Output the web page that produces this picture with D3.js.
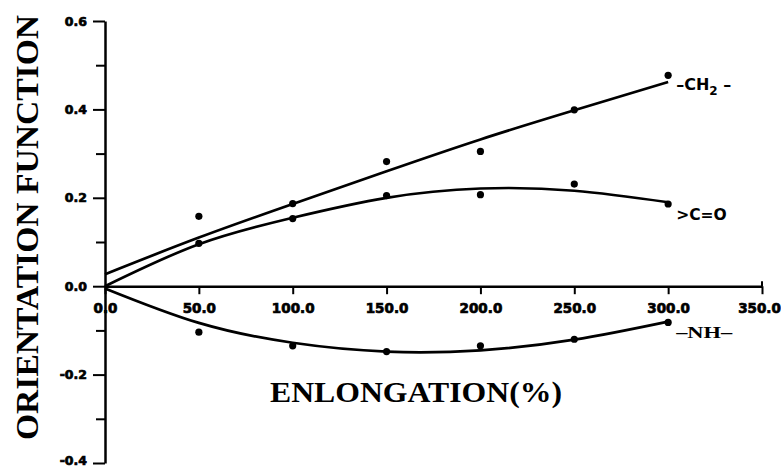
<!DOCTYPE html>
<html>
<head>
<meta charset="utf-8">
<script src="https://cdn.jsdelivr.net/npm/d3@7"></script>
<style>
  body { margin: 0; background: white; }
  svg { display: block; }
</style>
</head>
<body>
<script>
'use strict';

// elongation values (%) where orientation was measured
const elongation = [50, 100, 150, 200, 250, 300];
// measured points
const ch2Points = [0.158, 0.187, 0.282, 0.305, 0.399, 0.477];
const coPoints = [0.097, 0.153, 0.205, 0.207, 0.231, 0.186];
const nhPoints = [-0.104, -0.135, -0.148, -0.135, -0.120, -0.082];

// fitted curves
const fitX = [0, 50, 100, 150, 200, 250, 300];
const ch2Fit = [0.027, 0.110, 0.186, 0.260, 0.332, 0.398, 0.462];
const coFit = [0.0, 0.095, 0.155, 0.200, 0.221, 0.216, 0.190];
const nhFit = [-0.005, -0.083, -0.128, -0.148, -0.145, -0.121, -0.080];

// axis ticks
const xTicks = [0, 50, 100, 150, 200, 250, 300, 350];
const yMajor = [-0.4, -0.2, 0.0, 0.2, 0.4, 0.6];
const yMinor = [-0.3, -0.1, 0.1, 0.3, 0.5];

const seriesLabels = ['\u2013CH', '>C=O', '\u2013NH\u2013'];

(function() {
  let svg = '';

  window.onload = function() {
    svg = d3.select('body')
      .append('svg')
      .attr('width', 781)
      .attr('height', 470);

    let map = drawAxes();
    plotSeries(map, ch2Points, ch2Fit);
    plotSeries(map, coPoints, coFit);
    plotSeries(map, nhPoints, nhFit);
    makeLabels(map);
  };

  // heavy, slightly smudged look of the printed tick labels
  function inkText(sel, size) {
    sel.style('font-family', 'DejaVu Sans')
      .style('font-weight', 'bold')
      .style('font-size', size + 'px')
      .attr('stroke', 'black')
      .attr('stroke-width', 0.7);
  }

  function drawAxes() {
    let xScale = d3.scaleLinear().domain([0, 350]).range([105, 762]);
    let yScale = d3.scaleLinear().domain([-0.4, 0.6]).range([463, 21]);

    // x axis through zero, ticks hanging down
    let xAxis = svg.append('g')
      .attr('transform', 'translate(0,' + yScale(0) + ')')
      .call(d3.axisBottom(xScale)
        .tickValues(xTicks)
        .tickSize(8)
        .tickPadding(9)
        .tickSizeOuter(0)
        .tickFormat(d3.format('.1f')));
    xAxis.select('.domain').attr('stroke-width', 2.5);
    xAxis.selectAll('.tick line').attr('stroke-width', 2);
    inkText(xAxis.selectAll('.tick text'), 13.5);
    // last label sits on the right edge, keep it inside
    xAxis.selectAll('.tick text').filter(d => d === 350).attr('dx', -3);
    // little upward tail at the end of the axis
    svg.append('line')
      .attr('x1', xScale(350)).attr('x2', xScale(350))
      .attr('y1', yScale(0) - 5).attr('y2', yScale(0))
      .attr('stroke', 'black').attr('stroke-width', 2);

    // y axis with minor ticks
    let yAxis = svg.append('g')
      .attr('transform', 'translate(' + xScale(0) + ',0)')
      .call(d3.axisLeft(yScale)
        .tickValues(yMajor)
        .tickSize(12)
        .tickPadding(6)
        .tickSizeOuter(0)
        .tickFormat(d => d3.format('.1f')(d).replace('\u2212', '-')));
    yAxis.select('.domain').attr('stroke-width', 2.5);
    yAxis.selectAll('.tick line').attr('stroke-width', 2);
    inkText(yAxis.selectAll('.tick text'), 12.5);
    yAxis.selectAll('.tick text').filter(d => d === -0.4).attr('dy', '0.1em');

    let minor = svg.append('g')
      .attr('transform', 'translate(' + xScale(0) + ',0)')
      .call(d3.axisLeft(yScale).tickValues(yMinor).tickSize(9).tickFormat(''));
    minor.select('.domain').remove();
    minor.selectAll('.tick line').attr('stroke-width', 2);

    return { xScale: xScale, yScale: yScale };
  }

  // one measured series: dots and its smooth fitted curve
  function plotSeries(map, points, fit) {
    let line = d3.line()
      .x((d, i) => map.xScale(fitX[i]))
      .y(d => map.yScale(d))
      .curve(d3.curveNatural);

    svg.append('path')
      .datum(fit)
      .attr('d', line)
      .attr('fill', 'none')
      .attr('stroke', 'black')
      .attr('stroke-width', 2.7);

    svg.append('g').selectAll('circle')
      .data(points)
      .enter()
      .append('circle')
      .attr('cx', (d, i) => map.xScale(elongation[i]))
      .attr('cy', d => map.yScale(d))
      .attr('r', 3.6)
      .attr('fill', 'black');
  }

  function makeLabels(map) {
    let x = map.xScale(300) + 8;

    let ch2 = svg.append('text')
      .attr('x', x)
      .attr('y', map.yScale(ch2Fit[6]) + 8)
      .style('font-family', 'DejaVu Sans')
      .style('font-weight', 'bold')
      .style('font-size', '16px')
      .text(seriesLabels[0]);
    ch2.append('tspan')
      .attr('dy', 5)
      .style('font-size', '12px')
      .text('2');
    ch2.append('tspan')
      .attr('dy', -5)
      .text(' \u2013');

    svg.append('text')
      .attr('x', x)
      .attr('y', map.yScale(coFit[6]) + 18)
      .style('font-family', 'DejaVu Sans')
      .style('font-weight', 'bold')
      .style('font-size', '15.5px')
      .text(seriesLabels[1]);

    svg.append('text')
      .attr('x', x)
      .attr('y', map.yScale(nhFit[6]) + 16)
      .attr('textLength', 56)
      .attr('lengthAdjust', 'spacingAndGlyphs')
      .style('font-family', 'Liberation Serif')
      .style('font-weight', 'bold')
      .style('font-size', '17px')
      .text(seriesLabels[2]);

    // axis titles
    svg.append('text')
      .attr('x', 270)
      .attr('y', 402)
      .attr('textLength', 292)
      .attr('lengthAdjust', 'spacingAndGlyphs')
      .style('font-family', 'Liberation Serif')
      .style('font-weight', 'bold')
      .style('font-size', '30px')
      .text('ENLONGATION(%)');

    svg.append('text')
      .attr('transform', 'translate(38, 440)rotate(-90)')
      .attr('textLength', 425)
      .attr('lengthAdjust', 'spacingAndGlyphs')
      .style('font-family', 'Liberation Serif')
      .style('font-weight', 'bold')
      .style('font-size', '32px')
      .text('ORIENTATION  FUNCTION');
  }
})();
</script>
</body>
</html>
